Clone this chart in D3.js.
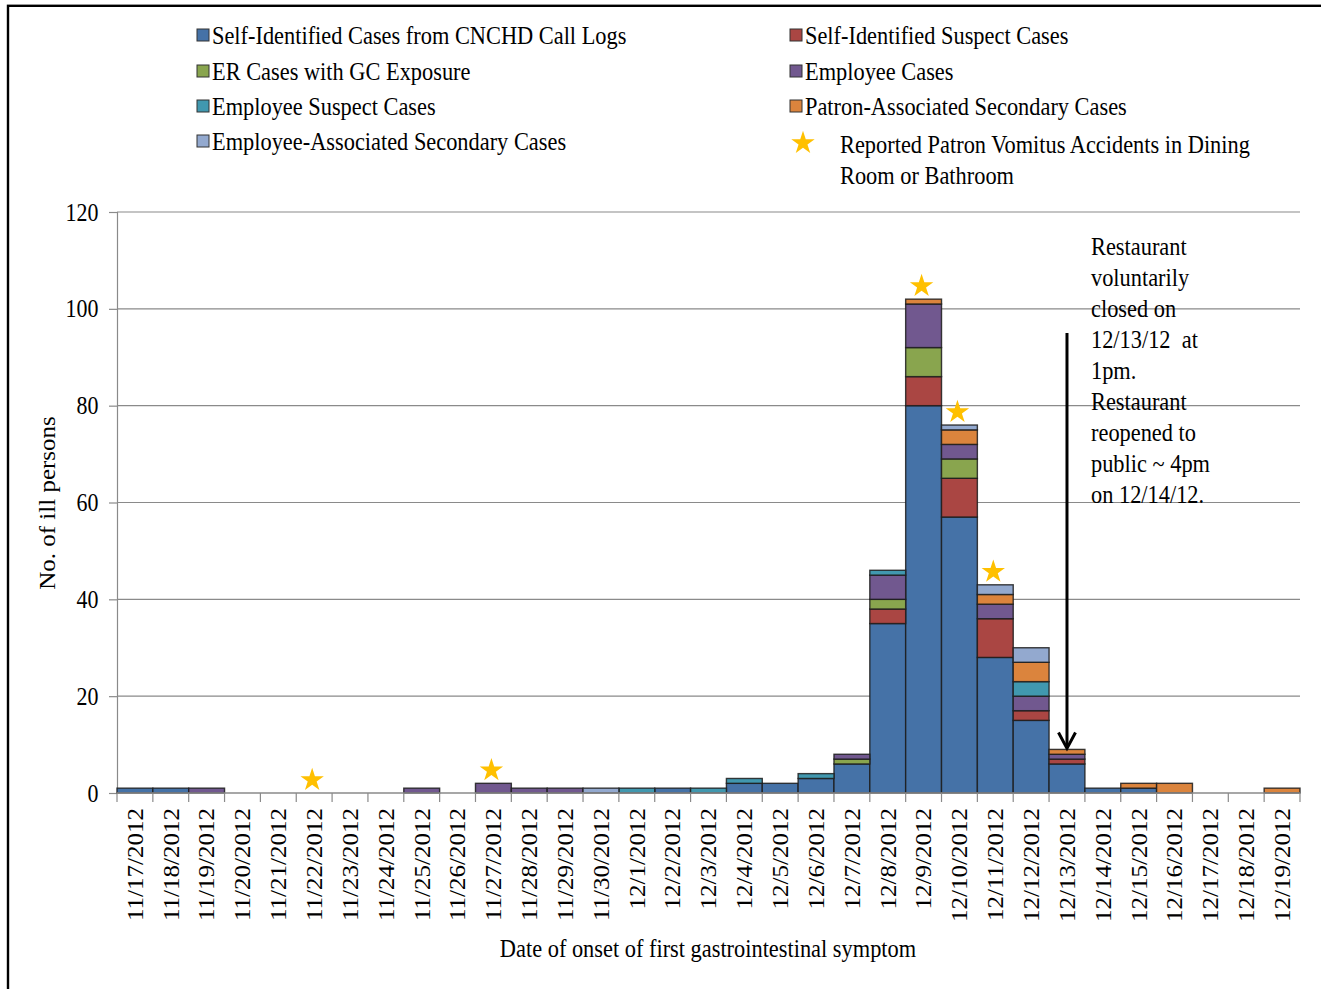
<!DOCTYPE html>
<html>
<head>
<meta charset="utf-8">
<script src="https://cdn.jsdelivr.net/npm/d3@7"></script>
<style>
  html, body { margin: 0; padding: 0; background: #fff; }
  svg { display: block; }
  text { font-family: "Liberation Serif", "Times New Roman", serif; fill: #000; }
</style>
</head>
<body>
<svg id="chart" width="1321" height="989"></svg>
<script>
// Onset dates (x categories)
const dates = [
  "11/17/2012","11/18/2012","11/19/2012","11/20/2012","11/21/2012","11/22/2012",
  "11/23/2012","11/24/2012","11/25/2012","11/26/2012","11/27/2012","11/28/2012",
  "11/29/2012","11/30/2012","12/1/2012","12/2/2012","12/3/2012","12/4/2012",
  "12/5/2012","12/6/2012","12/7/2012","12/8/2012","12/9/2012","12/10/2012",
  "12/11/2012","12/12/2012","12/13/2012","12/14/2012","12/15/2012","12/16/2012",
  "12/17/2012","12/18/2012","12/19/2012"
];

// Case counts per date, one array per case group (stacked bottom to top)
const selfIdentifiedCallLogs = [1,1,0,0,0,0,0,0,0,0,0,0,0,0,0,1,0,2,2,3,6,35,80,57,28,15,6,1,1,0,0,0,0];
const selfIdentifiedSuspect  = [0,0,0,0,0,0,0,0,0,0,0,0,0,0,0,0,0,0,0,0,0,3,6,8,8,2,1,0,0,0,0,0,0];
const erCasesGCExposure      = [0,0,0,0,0,0,0,0,0,0,0,0,0,0,0,0,0,0,0,0,1,2,6,4,0,0,0,0,0,0,0,0,0];
const employeeCases          = [0,0,1,0,0,0,0,0,1,0,2,1,1,0,0,0,0,0,0,0,1,5,9,3,3,3,1,0,0,0,0,0,0];
const employeeSuspect        = [0,0,0,0,0,0,0,0,0,0,0,0,0,0,1,0,1,1,0,1,0,1,0,0,0,3,0,0,0,0,0,0,0];
const patronSecondary        = [0,0,0,0,0,0,0,0,0,0,0,0,0,0,0,0,0,0,0,0,0,0,1,3,2,4,1,0,1,2,0,0,1];
const employeeSecondary      = [0,0,0,0,0,0,0,0,0,0,0,0,0,1,0,0,0,0,0,0,0,0,0,1,2,3,0,0,0,0,0,0,0];

const seriesNames = [
  "Self-Identified Cases from CNCHD Call Logs",
  "Self-Identified Suspect Cases",
  "ER Cases with GC Exposure",
  "Employee Cases",
  "Employee Suspect Cases",
  "Patron-Associated Secondary Cases",
  "Employee-Associated Secondary Cases"
];
const seriesValues = [
  selfIdentifiedCallLogs, selfIdentifiedSuspect, erCasesGCExposure,
  employeeCases, employeeSuspect, patronSecondary, employeeSecondary
];
const seriesColors = ["#4572A7","#AA4643","#89A54E","#71588F","#4198AF","#DB843D","#93A9CF"];

// Dates with reported patron vomitus accidents
const vomitusDates = ["11/22/2012","11/27/2012","12/9/2012","12/10/2012","12/11/2012"];

// Y axis ticks
const yTicks = [0, 20, 40, 60, 80, 100, 120];

// Closure annotation
const closureDate = "12/13/2012";
const closureArrowFrom = 95;
const closureNote = ["Restaurant","voluntarily","closed on","12/13/12  at","1pm.","Restaurant","reopened to","public ~ 4pm","on 12/14/12."];

const starLegendText = ["Reported Patron Vomitus Accidents in Dining", "Room or Bathroom"];
const yTitle = "No. of ill persons";
const xTitle = "Date of onset of first gastrointestinal symptom";

// ---------- drawing ----------
const svg = d3.select("#chart");
const SX = 0.895; // narrow glyph width

// outer frame
svg.append("rect")
  .attr("x", 8).attr("y", 5.8).attr("width", 1330).attr("height", 1000)
  .attr("fill", "none").attr("stroke", "#000").attr("stroke-width", 2.4);

const plot = { left: 117, right: 1300, top: 212, bottom: 793 };

const x = d3.scaleBand().domain(dates).range([plot.left, plot.right]).padding(0);
const y = d3.scaleLinear().domain([0, 120]).range([plot.bottom, plot.top]);

// stacked data
const table = dates.map((d, i) => {
  const row = { date: d };
  seriesNames.forEach((n, k) => row[n] = seriesValues[k][i]);
  return row;
});
const stack = d3.stack().keys(seriesNames)(table);
const totals = dates.map((d, i) => d3.sum(seriesValues, s => s[i]));
const totalByDate = new Map(dates.map((d, i) => [d, totals[i]]));

// gridlines
svg.append("g").selectAll("line")
  .data(yTicks.filter(t => t > 0))
  .join("line")
  .attr("x1", plot.left).attr("x2", plot.right)
  .attr("y1", d => y(d)).attr("y2", d => y(d))
  .attr("stroke", "#8a8a8a").attr("stroke-width", 1.2);

// y axis
const yAxis = svg.append("g").attr("transform", `translate(${plot.left},0)`)
  .call(d3.axisLeft(y).tickValues(yTicks).tickSize(8).tickFormat(d3.format("d")));
yAxis.select(".domain").attr("stroke", "#8a8a8a").attr("stroke-width", 1.2);
yAxis.selectAll(".tick line").attr("stroke", "#8a8a8a").attr("stroke-width", 1.2);
yAxis.selectAll(".tick text").remove();
svg.append("g").selectAll("text")
  .data(yTicks)
  .join("text")
  .attr("text-anchor", "end")
  .attr("font-size", 24.5)
  .attr("transform", d => `translate(98.5,${y(d)}) scale(${SX},1)`)
  .attr("dy", "0.35em")
  .text(d => d);

// bars
svg.append("g").selectAll("g")
  .data(stack)
  .join("g")
  .attr("fill", (d, i) => seriesColors[i])
  .selectAll("rect")
  .data(d => d.map((v, i) => ({ v, date: dates[i] })).filter(o => o.v[1] - o.v[0] > 0))
  .join("rect")
  .attr("x", d => x(d.date))
  .attr("width", x.bandwidth())
  .attr("y", d => y(d.v[1]))
  .attr("height", d => y(d.v[0]) - y(d.v[1]))
  .attr("stroke", "#1c1c1c").attr("stroke-opacity", 0.85).attr("stroke-width", 1.4);

// x axis line and ticks at category boundaries
const xg = svg.append("g");
xg.append("line")
  .attr("x1", plot.left).attr("x2", plot.right)
  .attr("y1", plot.bottom).attr("y2", plot.bottom)
  .attr("stroke", "#8a8a8a").attr("stroke-width", 1.4);
const boundaries = dates.map(d => x(d)).concat([x(dates[dates.length - 1]) + x.bandwidth()]);
xg.selectAll("line.tk")
  .data(boundaries)
  .join("line").attr("class", "tk")
  .attr("x1", d => d).attr("x2", d => d)
  .attr("y1", plot.bottom).attr("y2", plot.bottom + 9)
  .attr("stroke", "#8a8a8a").attr("stroke-width", 1.2);
xg.selectAll("text")
  .data(dates)
  .join("text")
  .attr("text-anchor", "end")
  .attr("font-size", 25)
  .attr("transform", d => `translate(${x(d) + x.bandwidth() / 2},808) scale(${SX},1) rotate(-90)`)
  .attr("dy", "0.35em")
  .text(d => d);

// axis titles
svg.append("text")
  .attr("text-anchor", "middle")
  .attr("font-size", 25)
  .attr("transform", `translate(47,503) scale(${SX},1) rotate(-90)`)
  .attr("dy", "0.35em")
  .text(yTitle);
svg.append("text")
  .attr("text-anchor", "middle")
  .attr("font-size", 25)
  .attr("transform", `translate(708,948) scale(${SX},1)`)
  .attr("dy", "0.35em")
  .text(xTitle);

// vomitus stars
const star = d3.symbol().type(d3.symbolStar).size(170);
svg.append("g").selectAll("path")
  .data(vomitusDates)
  .join("path")
  .attr("d", star)
  .attr("fill", "#FFC000")
  .attr("transform", d => `translate(${x(d) + x.bandwidth() / 2 - 2},${y(totalByDate.get(d)) - 13})`);

// closure arrow
const ax = x(closureDate) + x.bandwidth() / 2;
const tipY = y(totalByDate.get(closureDate)) - 1;
svg.append("line")
  .attr("x1", ax).attr("x2", ax)
  .attr("y1", y(closureArrowFrom)).attr("y2", tipY - 1)
  .attr("stroke", "#000").attr("stroke-width", 3);
svg.append("path")
  .attr("d", `M${ax - 8.5},${tipY - 16} L${ax},${tipY} L${ax + 8.5},${tipY - 16}`)
  .attr("fill", "none").attr("stroke", "#000").attr("stroke-width", 3);

// closure note
svg.append("g").selectAll("text")
  .data(closureNote)
  .join("text")
  .attr("font-size", 25)
  .attr("transform", (d, i) => `translate(1091,${246 + i * 31}) scale(${SX},1)`)
  .attr("dy", "0.35em")
  .style("white-space", "pre")
  .attr("xml:space", "preserve")
  .text(d => d);

// legend
const legendPos = [
  [197, 35], [790, 35],
  [197, 71], [790, 71],
  [197, 106], [790, 106],
  [197, 141]
];
const lg = svg.append("g");
seriesNames.forEach((n, i) => {
  const [lx, ly] = legendPos[i];
  lg.append("rect")
    .attr("x", lx).attr("y", ly - 6).attr("width", 12).attr("height", 12)
    .attr("fill", seriesColors[i]).attr("stroke", "#333").attr("stroke-width", 1);
  lg.append("text")
    .attr("font-size", 25)
    .attr("transform", `translate(${lx + 15},${ly}) scale(${SX},1)`)
    .attr("dy", "0.35em")
    .text(n);
});
lg.append("path")
  .attr("d", star)
  .attr("fill", "#FFC000")
  .attr("transform", "translate(803,143)");
starLegendText.forEach((t, i) => {
  lg.append("text")
    .attr("font-size", 25)
    .attr("transform", `translate(840,${144 + i * 31}) scale(${SX},1)`)
    .attr("dy", "0.35em")
    .text(t);
});
</script>
</body>
</html>
